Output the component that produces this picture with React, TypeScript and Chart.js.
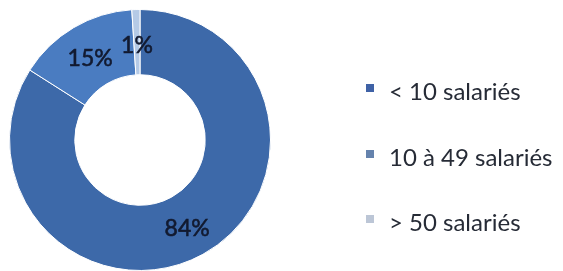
import React, { useEffect, useRef } from "react";
import { Chart, registerables } from "chart.js";

Chart.register(...registerables);

const categories = ["< 10 salariés", "10 à 49 salariés", "> 50 salariés"];
const shares = [84, 15, 1];
const shareLabels = ["84%", "15%", "1%"];
const colors = ["#3d69a9", "#4a7cc1", "#b5cae6"];
const legendColors = ["#3f62a6", "#6583ad", "#bcc6d6"];

const FONT = "Lato, 'Open Sans', sans-serif";

const labelPlugin = {
  id: "sliceLabels",
  afterDatasetsDraw(chart: any) {
    const ctx = chart.ctx;
    const meta = chart.getDatasetMeta(0);
    ctx.save();
    ctx.font = `23px ${FONT}`;
    ctx.fillStyle = "#121a30";
    ctx.strokeStyle = "#121a30";
    ctx.lineWidth = 0.6;
    ctx.textAlign = "center";
    ctx.textBaseline = "middle";
    meta.data.forEach((arc: any, i: number) => {
      const p = arc.tooltipPosition();
      ctx.fillText(shareLabels[i], p.x, p.y + 3);
      ctx.strokeText(shareLabels[i], p.x, p.y + 3);
    });
    ctx.restore();
  },
};

const legendPlugin = {
  id: "sideLegend",
  afterDraw(chart: any) {
    const ctx = chart.ctx;
    const x0 = 366;
    const ys = [88, 154, 219];
    ctx.save();
    ctx.font = `24px ${FONT}`;
    ctx.textBaseline = "alphabetic";
    ctx.textAlign = "left";
    categories.forEach((c, i) => {
      ctx.fillStyle = legendColors[i];
      ctx.fillRect(x0, ys[i] - 4, 8, 8);
      ctx.fillStyle = "#262b36";
      ctx.fillText(c, x0 + 23, ys[i] + 12);
    });
    ctx.restore();
  },
};

export default function App() {
  const ref = useRef<HTMLCanvasElement>(null);
  useEffect(() => {
    if (!ref.current) return;
    const chart = new Chart(ref.current, {
      type: "doughnut",
      data: {
        labels: categories,
        datasets: [
          {
            data: shares,
            backgroundColor: colors,
            borderColor: "#ffffff",
            borderWidth: 1,
          },
        ],
      },
      options: {
        animation: false,
        responsive: false,
        cutout: "50%",
        layout: { padding: { left: 9, top: 9, right: 292, bottom: 0 } },
        plugins: {
          legend: { display: false },
          tooltip: { enabled: false },
        },
      },
      plugins: [labelPlugin, legendPlugin],
    });
    return () => chart.destroy();
  }, []);
  return (
    <div style={{ position: "absolute", left: 0, top: 0, width: 563, height: 271, background: "#fff" }}>
      <canvas ref={ref} width={563} height={271} />
    </div>
  );
}
